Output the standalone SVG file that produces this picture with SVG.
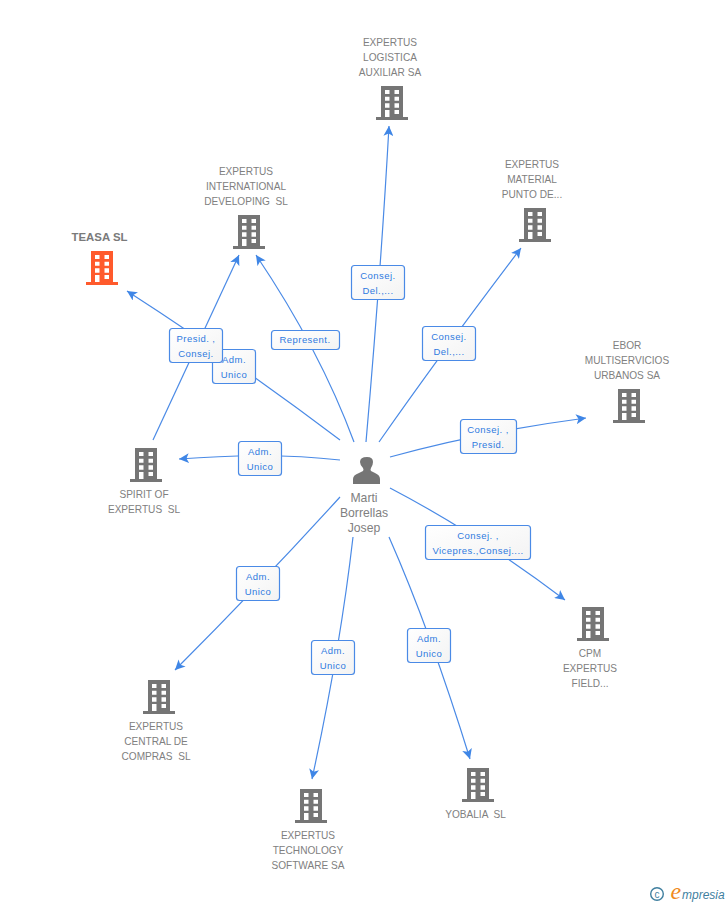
<svg xmlns="http://www.w3.org/2000/svg" width="728" height="905" viewBox="0 0 728 905">
<style>
text{font-family:"Liberation Sans",Arial,sans-serif}
.n{font-size:10.1px;fill:#808080;text-anchor:middle}
.p{font-size:12.200px;fill:#808080;text-anchor:middle}
.l{font-size:9.500px;fill:#2f7ae0;text-anchor:middle;letter-spacing:.45px}
.c{fill:none;stroke:#4a8ae6;stroke-width:1.200;marker-end:url(#a)}
.b{fill:url(#g);stroke:#4a8ae6;stroke-width:1.200}
.u{fill:#757575}
.o{fill:#ff5a2c}
</style>
<defs>
<linearGradient id="g" x1="0" y1="0" x2="1" y2="1"><stop offset="0" stop-color="#fff"/><stop offset="1" stop-color="#f3f3f3"/></linearGradient>
<marker id="a" markerUnits="userSpaceOnUse" markerWidth="12" markerHeight="10" refX="10" refY="5" orient="auto"><path d="M0 0L10 5L0 10L2.500 5Z" fill="#3f86e6"/></marker>
<path id="t" fill-rule="evenodd" d="M5 0H27V31H32V34H0V31H5ZM9 4V8H13.500V4ZM18.500 4V8H23V4ZM9 10.700V14.700H13.500V10.700ZM18.500 10.700V14.700H23V10.700ZM9 17.300V21.700H13.500V17.300ZM18.500 17.300V21.700H23V17.300ZM9 24V31H13.500V24ZM18.500 24V28H23V24Z"/>
</defs>
<rect width="728" height="905" fill="#fff"/>
<g id="connectors">
<path class="c" d="M366 442Q381 270 389 126"/>
<path class="c" d="M379 442Q442 352 521 248"/>
<path class="c" d="M390 457Q480 432 586 418"/>
<path class="c" d="M390 488Q478 534 565 600"/>
<path class="c" d="M389 537Q430 630 470 759"/>
<path class="c" d="M353 537Q340 650 312 779"/>
<path class="c" d="M340 497Q260 585 175 670"/>
<path class="c" d="M340 460Q270 452 179 459"/>
<path class="c" d="M340 440Q234 360 127 291"/>
<path class="c" d="M153 440L239 255"/>
<path class="c" d="M354 442Q320 350 256 255"/>
</g>
<g id="edge-labels">
<g><rect class="b" x="351.500" y="265.500" width="53" height="34" rx="3"/><text class="l" x="378" y="279">Consej.</text><text class="l" x="378" y="294">Del.,...</text></g>
<g><rect class="b" x="271.500" y="330.500" width="68" height="19" rx="3"/><text class="l" x="305" y="343">Represent.</text></g>
<g><rect class="b" x="212.500" y="349.500" width="43" height="34" rx="3"/><text class="l" x="234" y="363">Adm.</text><text class="l" x="234" y="378">Unico</text></g>
<g><rect class="b" x="169.500" y="328.500" width="53" height="34" rx="3"/><text class="l" x="196" y="342">Presid. ,</text><text class="l" x="196" y="357">Consej.</text></g>
<g><rect class="b" x="422.500" y="326.500" width="53" height="34" rx="3"/><text class="l" x="449" y="340">Consej.</text><text class="l" x="449" y="355">Del.,...</text></g>
<g><rect class="b" x="460.500" y="419.500" width="56" height="34" rx="3"/><text class="l" x="488" y="433">Consej. ,</text><text class="l" x="488" y="448">Presid.</text></g>
<g><rect class="b" x="238.500" y="441.500" width="43" height="34" rx="3"/><text class="l" x="260" y="455">Adm.</text><text class="l" x="260" y="470">Unico</text></g>
<g><rect class="b" x="425.500" y="525.500" width="105" height="34" rx="3"/><text class="l" x="478" y="539">Consej. ,</text><text class="l" x="478" y="554">Vicepres.,Consej....</text></g>
<g><rect class="b" x="236.500" y="566.500" width="43" height="34" rx="3"/><text class="l" x="258" y="580">Adm.</text><text class="l" x="258" y="595">Unico</text></g>
<g><rect class="b" x="311.500" y="640.500" width="43" height="34" rx="3"/><text class="l" x="333" y="654">Adm.</text><text class="l" x="333" y="669">Unico</text></g>
<g><rect class="b" x="407.500" y="628.500" width="43" height="34" rx="3"/><text class="l" x="429" y="642">Adm.</text><text class="l" x="429" y="657">Unico</text></g>
</g>
<g id="person"><path class="u" d="M353 484V479Q353 475 359 473L363 471Q364 470 363 468Q360 465 360 462Q360 457 367 457Q373 457 373 462Q373 465 371 468Q370 470 371 471L375 473Q380 475 380 479V484Z"/><text class="p" x="364" y="502">Marti</text><text class="p" x="364" y="517">Borrellas</text><text class="p" x="364" y="532">Josep</text></g>
<g id="logistica"><use href="#t" class="u" x="376" y="86"/><text class="n" x="390" y="46">EXPERTUS</text><text class="n" x="390" y="61">LOGISTICA</text><text class="n" x="390" y="76">AUXILIAR SA</text></g>
<g id="international"><use href="#t" class="u" x="233" y="215"/><text class="n" x="246" y="175">EXPERTUS</text><text class="n" x="246" y="190">INTERNATIONAL</text><text class="n" x="246" y="205" xml:space="preserve">DEVELOPING  SL</text></g>
<g id="teasa"><use href="#t" class="o" x="86" y="251"/><text x="99.500" y="241" text-anchor="middle" font-size="11.400" font-weight="700" fill="#7a7a7a">TEASA SL</text></g>
<g id="material"><use href="#t" class="u" x="519" y="208"/><text class="n" x="532" y="168">EXPERTUS</text><text class="n" x="532" y="183">MATERIAL</text><text class="n" x="532" y="198">PUNTO DE...</text></g>
<g id="ebor"><use href="#t" class="u" x="613" y="389"/><text class="n" x="627" y="349">EBOR</text><text class="n" x="627" y="364">MULTISERVICIOS</text><text class="n" x="627" y="379">URBANOS SA</text></g>
<g id="spirit"><use href="#t" class="u" x="130" y="448"/><text class="n" x="144" y="498">SPIRIT OF</text><text class="n" x="144" y="513" xml:space="preserve">EXPERTUS  SL</text></g>
<g id="cpm"><use href="#t" class="u" x="577" y="607"/><text class="n" x="590" y="657">CPM</text><text class="n" x="590" y="672">EXPERTUS</text><text class="n" x="590" y="687">FIELD...</text></g>
<g id="central"><use href="#t" class="u" x="143" y="680"/><text class="n" x="156" y="730">EXPERTUS</text><text class="n" x="156" y="745">CENTRAL DE</text><text class="n" x="156" y="760" xml:space="preserve">COMPRAS  SL</text></g>
<g id="technology"><use href="#t" class="u" x="295" y="789"/><text class="n" x="308" y="839">EXPERTUS</text><text class="n" x="308" y="854">TECHNOLOGY</text><text class="n" x="308" y="869">SOFTWARE SA</text></g>
<g id="yobalia"><use href="#t" class="u" x="462" y="768"/><text class="n" x="475.500" y="818" xml:space="preserve">YOBALIA  SL</text></g>
<g id="logo"><circle cx="657" cy="894" r="6.300" fill="none" stroke="#3f7f9f" stroke-width="1.400"/><text x="657" y="897.500" text-anchor="middle" font-size="10" fill="#3f7f9f">c</text><text x="670.500" y="899" font-size="24" font-style="italic" fill="#f08a1e" style="font-family:'Liberation Serif',serif">e</text><text x="682" y="899" font-size="12" font-style="italic" fill="#3f7f9f">mpresia</text></g>
</svg>
